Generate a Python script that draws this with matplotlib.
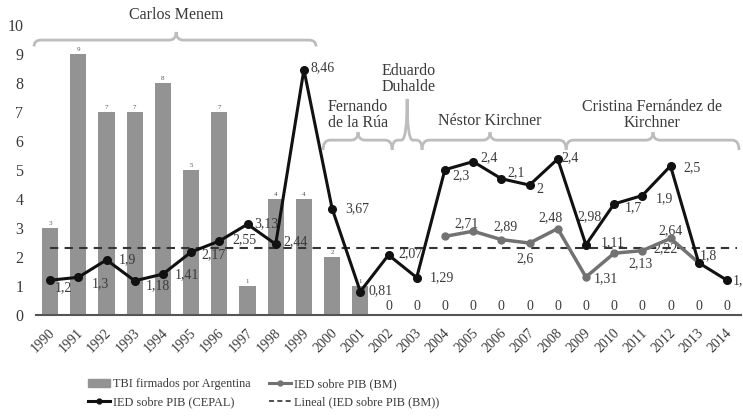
import numpy as np
import matplotlib.pyplot as plt
from matplotlib.path import Path
from matplotlib.patches import PathPatch
from matplotlib.lines import Line2D
from matplotlib.patches import Patch

plt.rcParams['font.family'] = ['Liberation Serif', 'DejaVu Serif']

# Data
years = list(range(1990, 2015))
tbi = [3, 9, 7, 7, 8, 5, 7, 1, 4, 4, 2, 1, 0, 0, 0, 0, 0, 0, 0, 0, 0, 0, 0, 0, 0]
nan = np.nan
ied_cepal = [1.2, 1.3, 1.9, 1.18, 1.41, 2.17, 2.55, 3.13, 2.44, 8.46, 3.67, 0.81, 2.07, 1.29,
             2.3, 2.4, 2.1, 2, 2.4, 1.11, 1.7, 1.9, 2.5, nan, 1.2]
ied_bm = [nan] * 14 + [2.71, 2.89, 2.6, 2.48, 2.98, 1.31, 2.13, 2.22, 2.64, 1.8, nan]
trend_bm = 2.32

# label offsets (pixels) for the data labels
cepal_off = [(13, -7), (22, -6), (21, 0), (23, -5), (24, -1), (22, -3), (25, 1), (19, 1), (20, 3),
             (19, 2), (25, 0), (20, 1), (22, 1), (25, 0), (16, -6), (16, 4), (15, 6), (10, -4),
             (12, 1), (27, 2), (19, -4), (22, -3), (21, -2), None, (6, 0)]
bm_off = {2004: (22, 13), 2005: (32, 5), 2006: (24, -19), 2007: (21, 25), 2008: (32, 12),
          2009: (20, -2), 2010: (26, -10), 2011: (23, 2), 2012: (0, 8), 2013: (10, 7)}

x = np.array(years)
bm = np.array(ied_bm, dtype=float)
cepal = np.array(ied_cepal, dtype=float)
# stacked line: CEPAL sits on top of BM
cepal_stack = np.nan_to_num(bm) + np.nan_to_num(cepal)

txt_col = '#3a3a3a'
bar_col = '#939393'
gray_col = '#727272'
brace_col = '#bdbdbd'

fig = plt.figure(figsize=(7.43, 4.18), dpi=100)
ax = fig.add_axes([36 / 743, 103 / 418, 705 / 743, 290 / 418])

ax.bar(x, tbi, width=0.57, color=bar_col, zorder=2)
for xi, v in zip(x, tbi):
    if v > 0:
        ax.annotate(str(v), (xi, v), xytext=(0, 2), textcoords='offset pixels',
                    ha='center', va='bottom', fontsize=5, color='#555555')
    else:
        ax.annotate('0', (xi, 0), xytext=(0, 9), textcoords='offset pixels',
                    ha='center', va='center', fontsize=10, color=txt_col)

ax.plot([1990, 2014.35], [trend_bm, trend_bm], ls=(0, (4, 3)), color='#333333', lw=1.5, zorder=3)

mask_bm = ~np.isnan(bm)
ax.plot(x[mask_bm], bm[mask_bm], color=gray_col, lw=2.5, marker='o', ms=5, zorder=4)

mask_c = ~(np.isnan(bm) & np.isnan(cepal))
ax.plot(x[mask_c], cepal_stack[mask_c], color='#111111', lw=2.2, marker='o', ms=5.5, zorder=5)

for i, yr in enumerate(years):
    if cepal_off[i] is not None:
        ha = 'left' if yr == 2014 else 'center'
        ax.annotate(f"{ied_cepal[i]:g}".replace('.', ','), (yr, cepal_stack[i]),
                    xytext=cepal_off[i], textcoords='offset pixels', ha=ha, va='center',
                    fontsize=10, color=txt_col, annotation_clip=False)
    if yr in bm_off:
        ax.annotate(f"{ied_bm[i]:g}".replace('.', ','), (yr, bm[i]),
                    xytext=bm_off[yr], textcoords='offset pixels', ha='center', va='center',
                    fontsize=10, color=txt_col)

ax.set_xlim(1989.5, 2014.5)
ax.set_ylim(0, 10)
ax.set_yticks(range(0, 11))
ax.set_xticks(x)
ax.set_xticklabels([])
# rotated year labels
for yr in years:
    ax.annotate(str(yr), (yr, 0), xytext=(3, -16), textcoords='offset pixels', rotation=45,
                ha='right', va='center', rotation_mode='anchor', fontsize=10, color=txt_col,
                annotation_clip=False)
ax.tick_params(axis='y', length=0, pad=9, labelsize=11.5, labelcolor=txt_col)
ax.tick_params(axis='x', length=0, pad=0)
for s in ['top', 'right', 'left']:
    ax.spines[s].set_visible(False)
ax.spines['bottom'].set_color('#555555')
ax.spines['bottom'].set_linewidth(1.5)


def brace(x0, x1, xc, yh, ytop, ylow, r=0.25):
    verts = [(x0, ylow), (x0, yh), (x0 + r, yh), (xc - r, yh), (xc, yh), (xc, ytop),
             (xc, yh), (xc + r, yh), (x1 - r, yh), (x1, yh), (x1, ylow)]
    codes = [Path.MOVETO, Path.CURVE3, Path.CURVE3, Path.LINETO, Path.CURVE3, Path.CURVE3,
             Path.CURVE3, Path.CURVE3, Path.LINETO, Path.CURVE3, Path.CURVE3]
    ax.add_patch(PathPatch(Path(verts, codes), fill=False, edgecolor=brace_col, lw=2,
                           clip_on=False, zorder=1))


# presidential terms
brace(1989.43, 1999.43, 1994.47, 9.48, 9.76, 9.26)
brace(1999.68, 2002.13, 2000.92, 6.03, 6.31, 5.69)
brace(2002.13, 2003.19, 2002.66, 6.03, 7.45, 5.69, r=0.2)
brace(2003.19, 2008.30, 2005.60, 6.03, 6.31, 5.69)
brace(2008.30, 2014.43, 2011.38, 6.03, 6.31, 5.69)

tk = dict(ha='center', va='center', fontsize=11.5, color=txt_col, linespacing=1.0)
ax.text(1994.47, 10.36, 'Carlos Menem', clip_on=False, **tk)
ax.text(2000.92, 6.9, 'Fernando\nde la Rúa', **tk)
ax.text(2002.7, 8.13, 'Eduardo\nDuhalde', **tk)
ax.text(2005.6, 6.7, 'Néstor Kirchner', **tk)
ax.text(2011.35, 6.9, 'Cristina Fernández de\nKirchner', **tk)

handles = [Patch(color=bar_col),
           Line2D([], [], color='#111111', lw=2.2, marker='o', ms=3.5),
           Line2D([], [], color=gray_col, lw=2.2, marker='o', ms=3.5),
           Line2D([], [], color='#333333', lw=1.2, ls=(0, (3, 2)))]
labels = ['TBI firmados por Argentina', 'IED sobre PIB (CEPAL)',
          'IED sobre PIB (BM)', 'Lineal (IED sobre PIB (BM))']
fig.legend(handles, labels, ncol=2, loc='upper left', bbox_to_anchor=(82 / 743, 1 - 372 / 418),
           frameon=False, fontsize=8.8, handlelength=1.8, handletextpad=0.2,
           columnspacing=1.55, labelspacing=0.5, borderpad=0, labelcolor=txt_col)

fig.savefig('out.png', dpi=100)
